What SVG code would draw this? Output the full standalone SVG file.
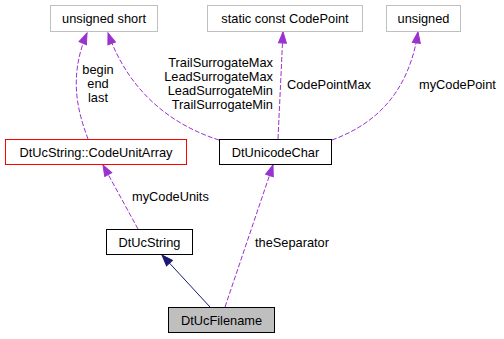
<svg xmlns="http://www.w3.org/2000/svg" width="504" height="339" viewBox="0 0 504 339">
<defs>
<style>
text{font-family:"Liberation Sans",Arial,sans-serif;font-size:12.8px;fill:#000}
.n{fill:#fff;stroke:#000;stroke-width:1}
.g{fill:#fff;stroke:#bfbfbf;stroke-width:1}
.r{fill:#fff;stroke:#ff0000;stroke-width:1}
.cur{fill:#bfbfbf;stroke:#000;stroke-width:1}
.u{fill:none;stroke:#9a32cd;stroke-width:1;stroke-dasharray:5,2;marker-end:url(#pa)}
.i{fill:none;stroke:#191970;stroke-width:1;marker-end:url(#na)}
.c{text-anchor:middle}
.e{text-anchor:end}
</style>
<marker id="pa" markerUnits="userSpaceOnUse" markerWidth="13" markerHeight="10" refX="12" refY="4.5" orient="auto" viewBox="0 0 13 9">
<path d="M1,0.5 L12,4.5 L1,8.5 z" fill="#9a32cd" stroke="#9a32cd"/>
</marker>
<marker id="na" markerUnits="userSpaceOnUse" markerWidth="13" markerHeight="10" refX="12" refY="4.5" orient="auto" viewBox="0 0 13 9">
<path d="M1,0.5 L12,4.5 L1,8.5 z" fill="#191970" stroke="#191970"/>
</marker>
</defs>
<rect width="504" height="339" fill="#fff"/>
<g id="connectors">
<path class="i" d="M210,307 L162,255"/>
<path class="u" d="M225,307 L273,165"/>
<path class="u" d="M138,229 L103,165"/>
<path class="u" d="M88,139 C78,112 68,78 87,33"/>
<path class="u" d="M219,140 C175,126 130,95 108,33"/>
<path class="u" d="M278,139 L283,32"/>
<path class="u" d="M332,140 C370,126 408,98 418,32"/>
<text x="98" y="74" class="c">begin</text>
<text x="98" y="88" class="c">end</text>
<text x="98" y="102" class="c">last</text>
<text x="273" y="66.5" class="e">TrailSurrogateMax</text>
<text x="273" y="80.5" class="e">LeadSurrogateMax</text>
<text x="273" y="94.5" class="e">LeadSurrogateMin</text>
<text x="273" y="108.5" class="e">TrailSurrogateMin</text>
<text x="287" y="88.5">CodePointMax</text>
<text x="419" y="88.5">myCodePoint</text>
<text x="132" y="200.5">myCodeUnits</text>
<text x="255" y="246.5">theSeparator</text>
</g>
<g id="node-unsigned-short">
<rect class="g" x="50.5" y="5.5" width="107" height="26"/>
<text x="104" y="23" class="c">unsigned short</text>
</g>
<g id="node-static-const-codepoint">
<rect class="g" x="207.5" y="5.5" width="155" height="26"/>
<text x="285" y="23" class="c">static const CodePoint</text>
</g>
<g id="node-unsigned">
<rect class="g" x="386.5" y="5.5" width="74" height="26"/>
<text x="423.5" y="23" class="c">unsigned</text>
</g>
<g id="node-codeunitarray">
<rect class="r" x="5.5" y="139.5" width="181" height="25"/>
<text x="96" y="156.5" class="c">DtUcString::CodeUnitArray</text>
</g>
<g id="node-dtunicodechar">
<rect class="n" x="219.5" y="139.5" width="112" height="25"/>
<text x="275.5" y="156.5" class="c">DtUnicodeChar</text>
</g>
<g id="node-dtucstring">
<rect class="n" x="106.5" y="229.5" width="86" height="25"/>
<text x="149.5" y="246.5" class="c">DtUcString</text>
</g>
<g id="node-dtucfilename">
<rect class="cur" x="168.5" y="307.5" width="106" height="25"/>
<text x="221.5" y="324.5" class="c">DtUcFilename</text>
</g>
</svg>
